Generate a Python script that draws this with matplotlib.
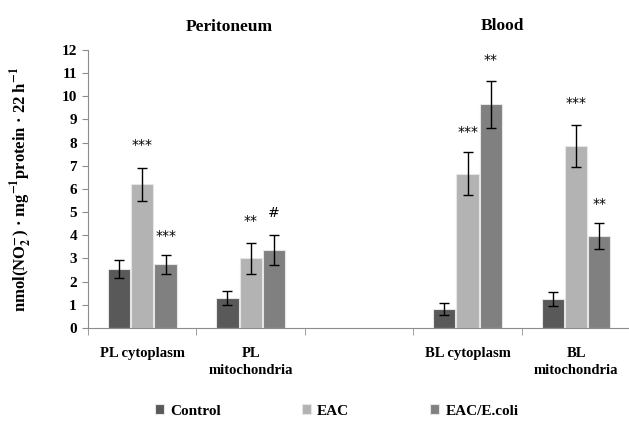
import matplotlib
matplotlib.use("Agg")
import matplotlib.pyplot as plt
import numpy as np

categories = ["PL cytoplasm", "PL\nmitochondria", "", "BL cytoplasm", "BL\nmitochondria"]
series = ["Control", "EAC", "EAC/E.coli"]
control = [2.55, 1.30, np.nan, 0.82, 1.25]
control_err = [0.40, 0.30, np.nan, 0.26, 0.32]
eac = [6.20, 3.00, np.nan, 6.65, 7.85]
eac_err = [0.72, 0.65, np.nan, 0.93, 0.90]
ecoli = [2.75, 3.35, np.nan, 9.65, 3.98]
ecoli_err = [0.42, 0.65, np.nan, 1.00, 0.55]
# significance marks: (category, series index, label, y)
marks = [(0, 1, "***", 7.9), (0, 2, "***", 3.95), (1, 1, "**", 4.6), (1, 2, "#", 4.95),
         (3, 1, "***", 8.45), (3, 2, "**", 11.55), (4, 1, "***", 9.7), (4, 2, "**", 5.35)]

COLORS = ["#595959", "#b3b3b3", "#808080"]
AXC = "#8c8c8c"

plt.rcParams.update({
    "font.family": ["Liberation Serif", "DejaVu Serif"],
    "font.weight": "bold",
    "mathtext.fontset": "stix",
    "mathtext.default": "bf",
})

fig = plt.figure(figsize=(6.29, 4.24), dpi=100)
ax = fig.add_axes([0.14, 0.2264, 0.862, 0.656])

x = np.arange(len(categories))
w = 0.205
vals = [control, eac, ecoli]
errs = [control_err, eac_err, ecoli_err]
for i, (v, e) in enumerate(zip(vals, errs)):
    pos = x + (i - 1) * (w + 0.01)
    ax.bar(pos, v, width=w, color=COLORS[i], edgecolor="#e6e6e6", linewidth=0.8,
           label=series[i], zorder=2)
    ax.errorbar(pos, v, yerr=e, fmt="none", ecolor="black", elinewidth=1.0,
                capsize=3.5, capthick=1.0, zorder=3)

for c, s, lab, y in marks:
    ax.text(x[c] + (s - 1) * (w + 0.01), y, lab, ha="center", va="center",
            fontsize=10, fontweight="normal", family="DejaVu Sans")

ax.set_xlim(-0.5, len(categories) - 0.5)
ax.set_ylim(0, 12)
ax.set_yticks(range(0, 13))
ax.set_xticks(x)
ax.set_xticklabels(categories, fontsize=10.5, fontweight="bold", linespacing=1.4)
ax.set_xticks(np.arange(-0.5, len(categories), 1.0), minor=True)
ax.tick_params(axis="x", which="major", length=0, pad=14)
ax.tick_params(axis="x", which="minor", length=5, color=AXC, direction="out")
ax.tick_params(axis="y", length=4, color=AXC, labelsize=11, pad=4)
for t in ax.get_yticklabels():
    t.set_fontweight("bold")
for s in ("top", "right"):
    ax.spines[s].set_visible(False)
for s in ("left", "bottom"):
    ax.spines[s].set_color(AXC)

ax.set_ylabel("nmol(NO$_2^{-}$) · mg$^{-1}$protein · 22 h$^{-1}$",
              fontsize=12, fontweight="bold", labelpad=20)

fig.text(229 / 629, 1 - 27 / 424, "Peritoneum", ha="center", va="center",
         fontsize=12.5, fontweight="bold")
fig.text(502 / 629, 1 - 26 / 424, "Blood", ha="center", va="center",
         fontsize=12.5, fontweight="bold")

fig.legend(loc="center", bbox_to_anchor=(0.535, 1 - 411 / 424), ncol=3, frameon=False,
           fontsize=11, handlelength=0.6, handleheight=0.6, columnspacing=5.3,
           handletextpad=0.4)

fig.savefig("out.png", dpi=100)
